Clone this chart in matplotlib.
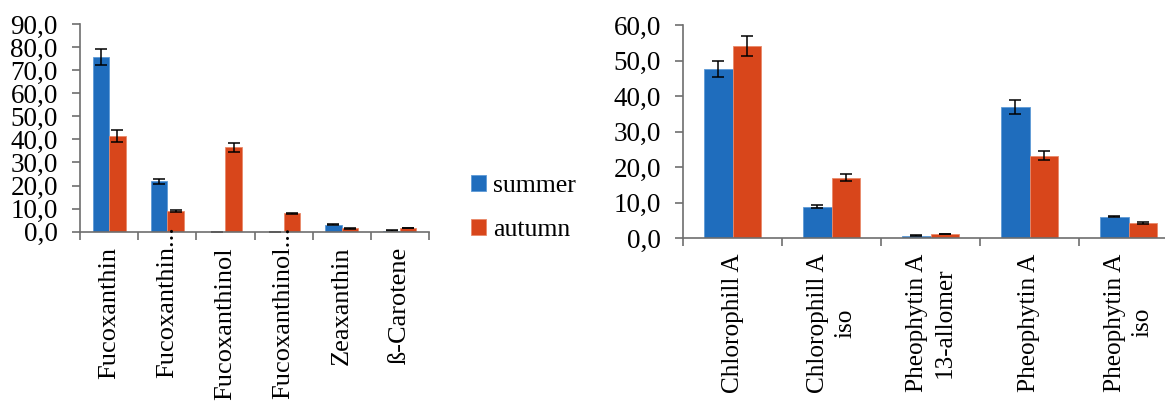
import numpy as np
import matplotlib
matplotlib.use("Agg")
import matplotlib.pyplot as plt
from matplotlib.ticker import FuncFormatter, MultipleLocator

# left panel: carotenoids
car_labels = ["Fucoxanthin", "Fucoxanthin...", "Fucoxanthinol", "Fucoxanthinol...",
              "Zeaxanthin", "ß-Carotene"]
car_summer = [75.7, 21.8, 0.0, 0.0, 3.0, 0.5]
car_summer_err = [3.6, 1.0, 0.0, 0.0, 0.3, 0.1]
car_autumn = [41.5, 9.0, 36.5, 8.0, 1.5, 1.6]
car_autumn_err = [2.5, 0.6, 2.0, 0.3, 0.2, 0.1]

# right panel: chlorophylls
chl_labels = ["Chlorophill A", "Chlorophill A\niso", "Pheophytin A\n13-allomer",
              "Pheophytin A", "Pheophytin A\niso"]
chl_summer = [47.7, 8.8, 0.7, 36.9, 6.0]
chl_summer_err = [2.3, 0.4, 0.05, 1.9, 0.2]
chl_autumn = [54.1, 17.0, 1.1, 23.2, 4.2]
chl_autumn_err = [2.7, 0.9, 0.05, 1.2, 0.2]

BLUE = "#1F6DBD"
ORANGE = "#D8461B"
SPINE = "#6e6e6e"
FS = 19.5

plt.rcParams["font.family"] = ["Liberation Serif", "DejaVu Serif"]

fig = plt.figure(figsize=(11.65, 4.01), dpi=100)
ax1 = fig.add_axes([80 / 1165, 1 - 231.7 / 401, (429 - 80) / 1165, (231.7 - 24) / 401])
ax2 = fig.add_axes([683 / 1165, 1 - 238 / 401, (1165 - 683) / 1165, (238 - 25) / 401])

fmt = FuncFormatter(lambda v, p: f"{v:.1f}".replace(".", ","))
w = 0.285


def draw(ax, labels, s, se, a, ae, ymax, lfs):
    x = np.arange(len(labels))
    ax.bar(x - w / 2, s, w, color=BLUE, edgecolor="#5d9ad6", linewidth=0.6,
           yerr=se, capsize=4, error_kw=dict(ecolor="black", elinewidth=1.1, capthick=1.1),
           label="summer")
    ax.bar(x + w / 2, a, w, color=ORANGE, edgecolor="#e98a6a", linewidth=0.6,
           yerr=ae, capsize=4, error_kw=dict(ecolor="black", elinewidth=1.1, capthick=1.1),
           label="autumn")
    ax.set_ylim(0, ymax)
    ax.yaxis.set_major_locator(MultipleLocator(10))
    ax.yaxis.set_major_formatter(fmt)
    ax.set_xticks(x)
    # labels ending in "..." are placed by hand below, so the dots poke up into the plot
    shown = ["" if l.endswith("...") else l for l in labels]
    ax.set_xticklabels(shown, rotation=90, fontsize=lfs, ha="center", va="top",
                       multialignment="center", linespacing=1.35)
    for i, l in enumerate(labels):
        if l.endswith("..."):
            ax.annotate(l, xy=(i, 0), xycoords=("data", "axes fraction"),
                        xytext=(0, 4), textcoords="offset points", rotation=90,
                        ha="center", va="top", fontsize=lfs, annotation_clip=False)
    ax.set_xticks(np.arange(len(labels) + 1) - 0.5, minor=True)
    ax.tick_params(axis="x", which="major", length=0, pad=11)
    ax.tick_params(axis="x", which="minor", length=6, color=SPINE, width=1.2)
    ax.tick_params(axis="y", labelsize=FS, length=6, color=SPINE, width=1.2, pad=10)
    for side in ["top", "right"]:
        ax.spines[side].set_visible(False)
    for side in ["left", "bottom"]:
        ax.spines[side].set_color(SPINE)
        ax.spines[side].set_linewidth(1.2)


draw(ax1, car_labels, car_summer, car_summer_err, car_autumn, car_autumn_err, 90, 19)
ax1.set_xlim(-0.5, len(car_labels) - 0.5)

draw(ax2, chl_labels, chl_summer, chl_summer_err, chl_autumn, chl_autumn_err, 60, 18.2)
ax2.set_xlim(-0.5, -0.5 + (1165 - 683) / 99)

handles, lbls = ax1.get_legend_handles_labels()
fig.legend(handles, lbls, loc="center left", bbox_to_anchor=(458 / 1165, 1 - 208 / 401),
           frameon=False, fontsize=18.5, handlelength=0.6, handleheight=0.6,
           handletextpad=0.25, labelspacing=0.85, borderpad=0)

fig.savefig("out.png", dpi=100)
